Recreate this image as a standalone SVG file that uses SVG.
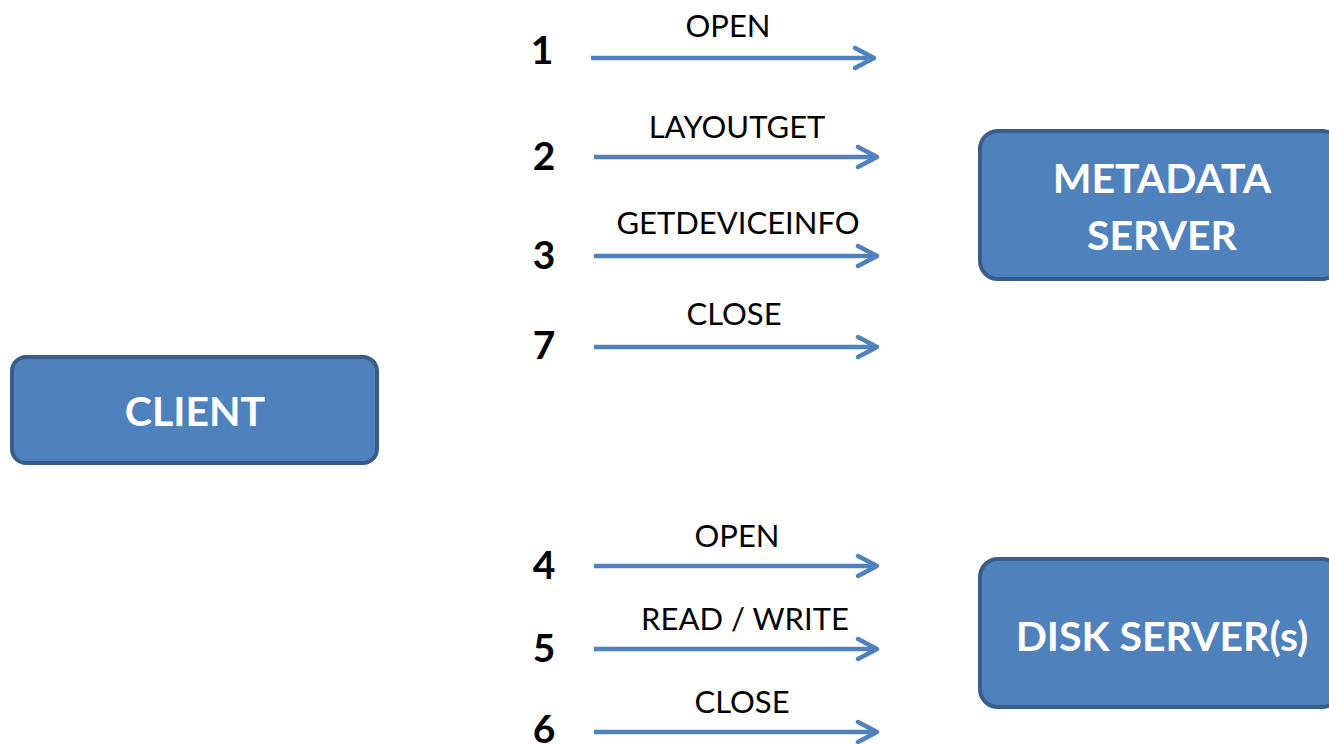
<svg xmlns="http://www.w3.org/2000/svg" width="1329" height="744" viewBox="0 0 1329 744">
<defs>
<style>
.box{fill:#4F81BD;stroke:#385D8A;stroke-width:4}
.bt{font-family:Lato,"Open Sans",sans-serif;font-weight:bold;font-size:41px;fill:#fff;text-anchor:middle}
.num{font-family:Lato,"Open Sans",sans-serif;font-weight:bold;font-size:39px;fill:#000;text-anchor:middle}
.lbl{font-family:Lato,"Open Sans",sans-serif;font-size:31px;fill:#000;text-anchor:middle}
.ar{stroke:#4F81BD;stroke-width:4.5;fill:none}
.hd{stroke:#4F81BD;stroke-width:4.5;fill:none;stroke-linecap:round;stroke-linejoin:round}
</style>
</defs>
<rect width="1329" height="744" fill="#fff"/>
<g id="client"><rect class="box" x="12" y="357" width="365" height="106" rx="14"/><text class="bt" x="195" y="426">CLIENT</text></g>
<g id="metadata"><rect class="box" x="980" y="131" width="360" height="148" rx="18"/><text class="bt" x="1162" y="193">METADATA</text><text class="bt" x="1162" y="250">SERVER</text></g>
<g id="disk"><rect class="box" x="980" y="559" width="360" height="148" rx="18"/><text class="bt" x="1162" y="651">DISK SERVER(s)</text></g>
<g id="connectors">
<line class="ar" x1="591" y1="58" x2="874" y2="58"/><polyline class="hd" points="855,48 874,58 855,68"/>
<line class="ar" x1="594" y1="157" x2="877" y2="157"/><polyline class="hd" points="858,147 877,157 858,167"/>
<line class="ar" x1="594" y1="256" x2="877" y2="256"/><polyline class="hd" points="858,246 877,256 858,266"/>
<line class="ar" x1="594" y1="347" x2="877" y2="347"/><polyline class="hd" points="858,337 877,347 858,357"/>
<line class="ar" x1="594" y1="566" x2="877" y2="566"/><polyline class="hd" points="858,556 877,566 858,576"/>
<line class="ar" x1="594" y1="649" x2="877" y2="649"/><polyline class="hd" points="858,639 877,649 858,659"/>
<line class="ar" x1="594" y1="732" x2="877" y2="732"/><polyline class="hd" points="858,722 877,732 858,742"/>
</g>
<g id="labels">
<text class="num" x="542" y="64">1</text>
<text class="num" x="544" y="170">2</text>
<text class="num" x="544" y="269">3</text>
<text class="num" x="544" y="359">7</text>
<text class="num" x="544" y="579">4</text>
<text class="num" x="544" y="662">5</text>
<text class="num" x="544" y="743">6</text>
<text class="lbl" x="728" y="37">OPEN</text>
<text class="lbl" x="737" y="138">LAYOUTGET</text>
<text class="lbl" x="738" y="234">GETDEVICEINFO</text>
<text class="lbl" x="734" y="325">CLOSE</text>
<text class="lbl" x="737" y="547">OPEN</text>
<text class="lbl" x="745" y="630">READ / WRITE</text>
<text class="lbl" x="742" y="713">CLOSE</text>
</g>
</svg>
